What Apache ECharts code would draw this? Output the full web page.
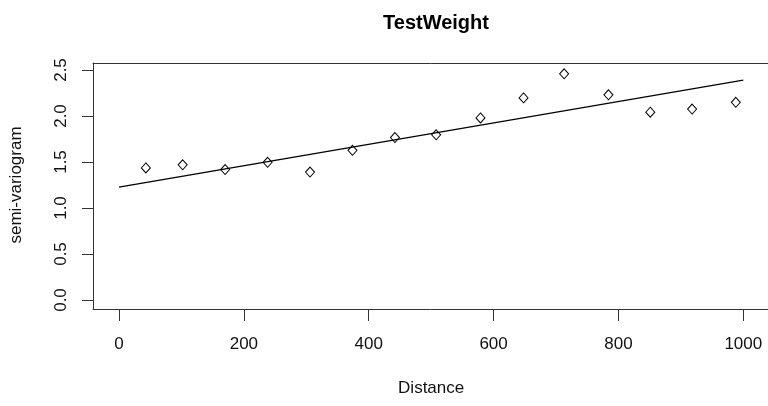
<!DOCTYPE html>
<html>
<head>
<meta charset="utf-8">
<script src="https://cdn.jsdelivr.net/npm/echarts@6/dist/echarts.min.js"></script>
<style>html,body{margin:0;padding:0;background:#fff}#c{width:768px;height:406px}</style>
</head>
<body>
<div id="c"></div>
<script>
var distance = [43, 102, 170, 238, 306, 374, 442, 508, 579, 648, 713, 784, 851, 918, 988];
var semivariogram = [1.436, 1.469, 1.418, 1.497, 1.391, 1.627, 1.766, 1.796, 1.979, 2.197, 2.459, 2.230, 2.042, 2.075, 2.149];
var fitX = [0, 1000];
var fitY = [1.228, 2.391];
var xTicks = [0, 200, 400, 600, 800, 1000];
var yTicks = [0, 0.5, 1, 1.5, 2, 2.5];

var FONT = '"Liberation Sans", Arial, sans-serif';
var chart = echarts.init(document.getElementById('c'), null, {renderer: 'canvas'});
var pts = distance.map(function (d, i) { return [d, semivariogram[i]]; });
var fit = fitX.map(function (d, i) { return [d, fitY[i]]; });

function boxAxis(gridIndex, position) {
  return {gridIndex: gridIndex, type: 'value', min: 0, max: 1, position: position,
    axisLine: {show: true, onZero: false, lineStyle: {color: '#333', width: 1}},
    axisTick: {show: false}, axisLabel: {show: false}, splitLine: {show: false}};
}

chart.setOption({
  animation: false,
  backgroundColor: '#ffffff',
  title: {
    text: 'TestWeight', left: 431, top: 8, textAlign: 'center',
    textStyle: {fontFamily: FONT, fontWeight: 'bold', fontSize: 20, color: '#000'}
  },
  grid: [
    {left: 93, right: -1, top: 63, bottom: 97, show: false},
    {left: 118, right: 24.7, top: 70, bottom: 106, show: false}
  ],
  xAxis: [
    boxAxis(0, 'bottom'),
    boxAxis(0, 'top'),
    {gridIndex: 1, type: 'value', min: xTicks[0], max: xTicks[xTicks.length - 1], interval: 200, offset: 9,
     axisLine: {show: false, onZero: false},
     axisTick: {show: true, inside: false, length: 12, lineStyle: {color: '#333', width: 1}},
     axisLabel: {margin: 27, fontFamily: FONT, fontSize: 17, color: '#111',
       formatter: function (v) { return String(v); }},
     splitLine: {show: false},
     name: 'Distance', nameLocation: 'middle', nameGap: 71,
     nameTextStyle: {fontFamily: FONT, fontSize: 17, color: '#111'}}
  ],
  yAxis: [
    boxAxis(0, 'left'),
    {gridIndex: 1, type: 'value', min: yTicks[0], max: yTicks[yTicks.length - 1], interval: 0.5, offset: 25,
     axisLine: {show: false, onZero: false},
     axisTick: {show: true, inside: false, length: 12, lineStyle: {color: '#333', width: 1}},
     axisLabel: {margin: 24, rotate: 90, fontFamily: FONT, fontSize: 17, color: '#111',
       formatter: function (v) { return v.toFixed(1); }},
     splitLine: {show: false},
     name: 'semi-variogram', nameLocation: 'middle', nameGap: 69, nameRotate: 90,
     nameTextStyle: {fontFamily: FONT, fontSize: 17, color: '#111'}}
  ],
  series: [
    {type: 'line', xAxisIndex: 2, yAxisIndex: 1, data: fit, showSymbol: false, symbol: 'none',
     lineStyle: {color: '#000', width: 1.3}, silent: true, clip: false},
    {type: 'scatter', xAxisIndex: 2, yAxisIndex: 1, data: pts, symbol: 'diamond', symbolSize: [9, 10],
     itemStyle: {color: '#fff', borderColor: '#000', borderWidth: 1, opacity: 1}, clip: false}
  ]
});
</script>
</body>
</html>
